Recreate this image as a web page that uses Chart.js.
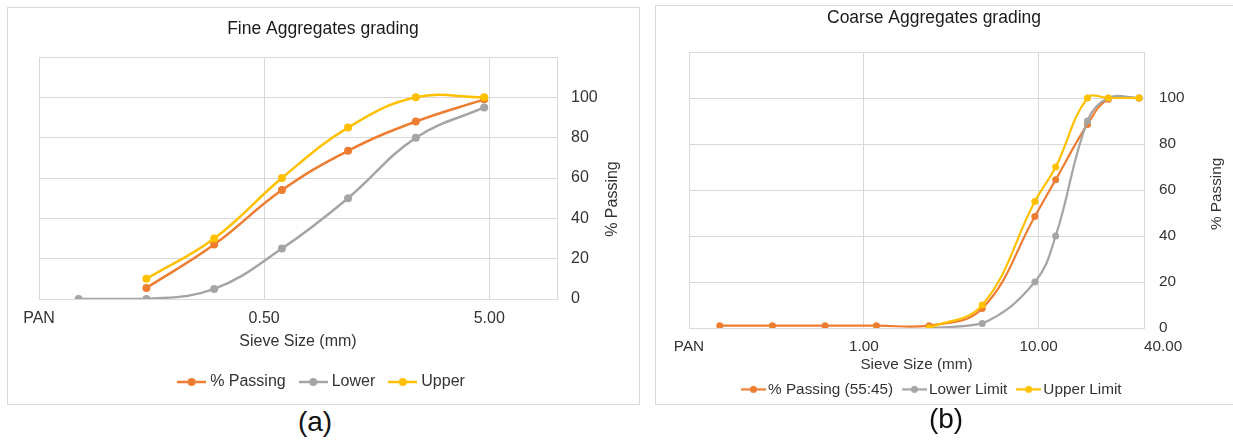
<!DOCTYPE html>
<html>
<head>
<meta charset="utf-8">
<script src="https://cdn.jsdelivr.net/npm/chart.js@4.4.0/dist/chart.umd.min.js"></script>
<style>
  html, body { margin: 0; padding: 0; background: #fff; }
  body { width: 1233px; height: 440px; position: relative; overflow: hidden; font-family: "Liberation Sans", Arial, sans-serif; }
  .frame { position: absolute; border: 1px solid #d9d9d9; box-sizing: border-box; }
  .wrap { position: absolute; }
  .wrap canvas { display: block; }
  .tag { position: absolute; font-size: 28px; line-height: 1; color: #111; transform: translate(-50%, -50%); }
</style>
</head>
<body>
<div class="frame" style="left:7px;top:7px;width:633px;height:398px"></div>
<div class="frame" style="left:655px;top:5px;width:600px;height:400px"></div>
<div class="wrap" style="left:7px;top:7px"><canvas id="fine" width="632" height="397"></canvas></div>
<div class="wrap" style="left:655px;top:5px"><canvas id="coarse" width="578" height="402"></canvas></div>
<div class="tag" style="left:315px;top:422px">(a)</div>
<div class="tag" style="left:946px;top:419px">(b)</div>
<script>
// sieve sizes in mm, % passing
const fineSieves = [0.075, 0.15, 0.3, 0.6, 1.18, 2.36, 4.75];
const finePassing = [null, 5.5, 27, 54, 73.5, 88, 99];
const fineLower = [0, 0, 5, 25, 50, 80, 95];
const fineUpper = [null, 10, 30, 60, 85, 100, 100];
const fineTicks = [0.05, 0.5, 5];

const coarseSieves = [0.15, 0.3, 0.6, 1.18, 2.36, 4.75, 9.5, 12.5, 19, 25, 37.5];
const coarsePassing = [1, 1, 1, 1, 1, 8.5, 48.5, 64.5, 88.5, 99.5, 100];
const coarseLower = [null, null, null, null, 0, 2, 20, 40, 90, 100, 100];
const coarseUpper = [null, null, null, null, 0, 10, 55, 70, 100, 100, 100];
const coarseTicks = [0.1, 1, 10, 40];

const passingTicks = [0, 20, 40, 60, 80, 100, 120];

const ORANGE = '#ED7D31';
const GREY = '#A5A5A5';
const YELLOW = '#FFC000';
const GRID = '#d9d9d9';
const TEXT = '#333333';

Chart.defaults.font.family = '"Liberation Sans", Arial, sans-serif';
Chart.defaults.color = TEXT;

const toPoints = (xs, ys) =>
  xs.map((x, i) => ({ x, y: ys[i] })).filter((p) => p.y !== null);

// little line-with-dot picture for the legend entries
function marker(color, width, radius, lineWidth) {
  const c = document.createElement('canvas');
  c.width = width;
  c.height = radius * 2 + 2;
  const ctx = c.getContext('2d');
  ctx.strokeStyle = color;
  ctx.lineWidth = lineWidth;
  ctx.beginPath();
  ctx.moveTo(0, c.height / 2);
  ctx.lineTo(width, c.height / 2);
  ctx.stroke();
  ctx.fillStyle = color;
  ctx.beginPath();
  ctx.arc(width / 2, c.height / 2, radius, 0, Math.PI * 2);
  ctx.fill();
  return c;
}

function gradingChart(id, opt) {
  const datasets = opt.series.map((s, i) => ({
    label: s.label,
    data: toPoints(opt.sieves, s.values),
    yAxisID: 'y',
    borderColor: s.color,
    backgroundColor: s.color,
    pointBackgroundColor: s.color,
    pointBorderColor: s.color,
    pointBorderWidth: 0,
    pointRadius: opt.pointRadius,
    borderWidth: opt.lineWidth,
    tension: 0.4,
    fill: false,
    order: opt.series.length - i, // later series on top, as in the original
  }));

  const yTitle = {
    id: 'yTitle',
    afterDraw(chart) {
      const { ctx, chartArea } = chart;
      ctx.save();
      ctx.translate(
        chartArea.right + opt.yTitleDx,
        chartArea.top + (chartArea.bottom - chartArea.top) * opt.yTitleAt,
      );
      ctx.rotate(-Math.PI / 2);
      ctx.font = `${opt.fontSize}px "Liberation Sans", Arial, sans-serif`;
      ctx.fillStyle = TEXT;
      ctx.textAlign = 'center';
      ctx.textBaseline = 'middle';
      ctx.fillText('% Passing', 0, 0);
      ctx.restore();
    },
  };

  const lastLabel = {
    id: 'lastLabel',
    beforeDraw(chart) {
      if (!opt.lastLabelLeft) return;
      const items = chart.scales.x.getLabelItems();
      items[items.length - 1].options.textAlign = 'left';
    },
  };

  return new Chart(document.getElementById(id), {
    type: 'line',
    data: { datasets },
    plugins: [yTitle, lastLabel],
    options: {
      responsive: false,
      animation: false,
      layout: { padding: opt.padding },
      plugins: {
        tooltip: { enabled: false },
        title: {
          display: true,
          text: opt.title,
          color: '#1a1a1a',
          font: { size: 17.5, weight: 'normal' },
          padding: opt.titlePadding,
        },
        legend: {
          position: 'bottom',
          labels: {
            usePointStyle: true,
            pointStyleWidth: opt.legendBox,
            padding: opt.legendGap,
            color: TEXT,
            font: { size: opt.fontSize },
            generateLabels: (chart) =>
              chart.data.datasets.map((ds, i) => ({
                text: ds.label,
                pointStyle: marker(ds.borderColor, opt.legendMarker, opt.pointRadius, opt.lineWidth),
                fillStyle: ds.borderColor,
                strokeStyle: ds.borderColor,
                lineWidth: 0,
                hidden: false,
                datasetIndex: i,
                fontColor: TEXT,
              })),
          },
        },
      },
      scales: {
        x: {
          type: 'logarithmic',
          position: 'bottom',
          min: opt.ticks[0],
          max: opt.xMax,
          afterBuildTicks: (s) => {
            s.ticks = opt.ticks.map((v) => ({ value: v }));
          },
          afterFit: (s) => {
            s.height = opt.xAxisHeight;
          },
          grid: { color: GRID, drawTicks: false },
          border: { color: GRID },
          ticks: {
            autoSkip: false,
            maxRotation: 0,
            padding: opt.xTickPad,
            font: { size: opt.fontSize },
            callback: (v) => (v === opt.ticks[0] ? 'PAN' : Number(v).toFixed(2)),
          },
          title: {
            display: true,
            text: 'Sieve Size (mm)',
            font: { size: opt.fontSize },
            padding: { top: 0, bottom: opt.xTitlePad },
          },
        },
        y: {
          position: 'right',
          min: 0,
          max: 120,
          afterBuildTicks: (s) => {
            s.ticks = passingTicks.map((v) => ({ value: v }));
          },
          afterFit: (s) => {
            s.width = opt.yAxisWidth;
          },
          grid: { color: GRID, drawTicks: false },
          border: { color: GRID },
          ticks: {
            padding: opt.yTickPad,
            font: { size: opt.fontSize },
            callback: (v) => (v === 120 ? '' : v),
          },
        },
        pad: {
          type: 'linear',
          position: 'left',
          ticks: { display: false },
          grid: { display: false },
          border: { display: false },
          afterFit: (s) => {
            s.width = opt.leftPad;
          },
        },
      },
    },
  });
}

gradingChart('fine', {
  title: 'Fine Aggregates grading',
  sieves: fineSieves,
  series: [
    { label: '% Passing', values: finePassing, color: ORANGE },
    { label: 'Lower', values: fineLower, color: GREY },
    { label: 'Upper', values: fineUpper, color: YELLOW },
  ],
  ticks: fineTicks,
  xMax: 10,
  fontSize: 16,
  pointRadius: 4,
  lineWidth: 2.5,
  padding: { top: 0, left: 0, right: 0, bottom: 4 },
  titlePadding: { top: 12, bottom: 17 },
  leftPad: 32,
  yAxisWidth: 82,
  xAxisHeight: 58,
  xTickPad: 10.4,
  xTitlePad: 5.4,
  yTickPad: 14,
  legendBox: 21,
  legendMarker: 29,
  legendGap: 17,
  yTitleDx: 56,
  yTitleAt: 0.587,
  lastLabelLeft: false,
});

gradingChart('coarse', {
  title: 'Coarse Aggregates grading',
  sieves: coarseSieves,
  series: [
    { label: '% Passing (55:45)', values: coarsePassing, color: ORANGE },
    { label: 'Lower Limit', values: coarseLower, color: GREY },
    { label: 'Upper Limit', values: coarseUpper, color: YELLOW },
  ],
  ticks: coarseTicks,
  xMax: 40,
  fontSize: 15.3,
  pointRadius: 3.5,
  lineWidth: 2.2,
  padding: { top: 0, left: 0, right: 20, bottom: 0 },
  titlePadding: { top: 2.5, bottom: 23.5 },
  leftPad: 34,
  yAxisWidth: 69,
  xAxisHeight: 39.3,
  xTickPad: 9.8,
  xTitlePad: -6.9,
  yTickPad: 15,
  legendBox: 14,
  legendMarker: 25,
  legendGap: 14.4,
  yTitleDx: 73,
  yTitleAt: 0.514,
  lastLabelLeft: true,
});
</script>
</body>
</html>
